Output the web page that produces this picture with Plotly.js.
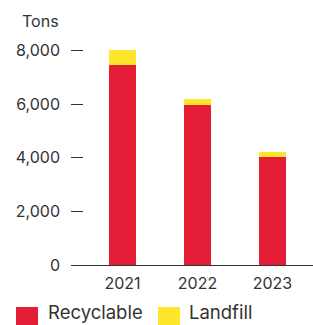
<!DOCTYPE html>
<html>
<head>
<meta charset="utf-8">
<script src="https://cdn.plot.ly/plotly-3.0.1.min.js"></script>
<style>html,body{margin:0;padding:0;background:#fff;}#chart{width:313px;height:325px;}</style>
</head>
<body>
<div id="chart"></div>
<script>
const years = ['2021', '2022', '2023'];
const recyclable = [7480, 5960, 4020];
const landfill = [530, 220, 190];
const yTicks = [0, 2000, 4000, 6000, 8000];
const yTickLabels = ['0', '2,000', '4,000', '6,000', '8,000'];
const seriesNames = ['Recyclable', 'Landfill'];
const unitLabel = 'Tons';

const RED = '#E41D36';
const YELLOW = '#FFE62B';
const TEXT = '#333333';
const FONT = 'Inter, "Open Sans", sans-serif';

const traces = [
  {type: 'bar', x: years, y: recyclable, name: seriesNames[0], marker: {color: RED}, showlegend: false, hoverinfo: 'none'},
  {type: 'bar', x: years, y: landfill, name: seriesNames[1], marker: {color: YELLOW}, showlegend: false, hoverinfo: 'none'}
];

const L = 71, W = 313, H = 325;
const px = v => (v - L) / (W - L);
const py = v => (H - 60 - v) / (H - 60 - 40);

const layout = {
  width: W, height: H,
  margin: {l: L, r: 0, t: 40, b: 60, pad: 0},
  paper_bgcolor: '#fff', plot_bgcolor: '#fff',
  barmode: 'stack',
  bargap: 0.64,
  font: {family: FONT, color: TEXT, size: 16},
  xaxis: {
    type: 'category',
    range: [-0.687, 2.54],
    showline: true, linecolor: TEXT, linewidth: 1,
    ticks: '', showgrid: false, zeroline: false,
    tickfont: {family: FONT, size: 16, color: TEXT},
    ticklabelstandoff: 4
  },
  yaxis: {
    range: [0, 8400],
    tickvals: yTicks, ticktext: yTickLabels,
    ticks: 'inside', ticklen: 12, tickwidth: 1, tickcolor: TEXT,
    showgrid: false, zeroline: false, showline: false,
    tickfont: {family: FONT, size: 16, color: TEXT},
    ticklabelstandoff: 10
  },
  shapes: [
    {type: 'rect', xref: 'paper', yref: 'paper', x0: px(16), x1: px(38), y0: py(307), y1: py(329), fillcolor: RED, line: {width: 0}},
    {type: 'rect', xref: 'paper', yref: 'paper', x0: px(158), x1: px(180), y0: py(307), y1: py(329), fillcolor: YELLOW, line: {width: 0}}
  ],
  annotations: [
    {xref: 'paper', yref: 'paper', x: px(20), y: py(20.5), xanchor: 'left', yanchor: 'middle', text: unitLabel, showarrow: false, font: {family: FONT, size: 16, color: TEXT}},
    {xref: 'paper', yref: 'paper', x: px(46), y: py(325), xanchor: 'left', yanchor: 'bottom', text: seriesNames[0], showarrow: false, font: {family: FONT, size: 18.5, color: TEXT}},
    {xref: 'paper', yref: 'paper', x: px(187), y: py(325), xanchor: 'left', yanchor: 'bottom', text: seriesNames[1], showarrow: false, font: {family: FONT, size: 18.5, color: TEXT}}
  ]
};

Plotly.newPlot('chart', traces, layout, {displayModeBar: false, staticPlot: true});
</script>
</body>
</html>
